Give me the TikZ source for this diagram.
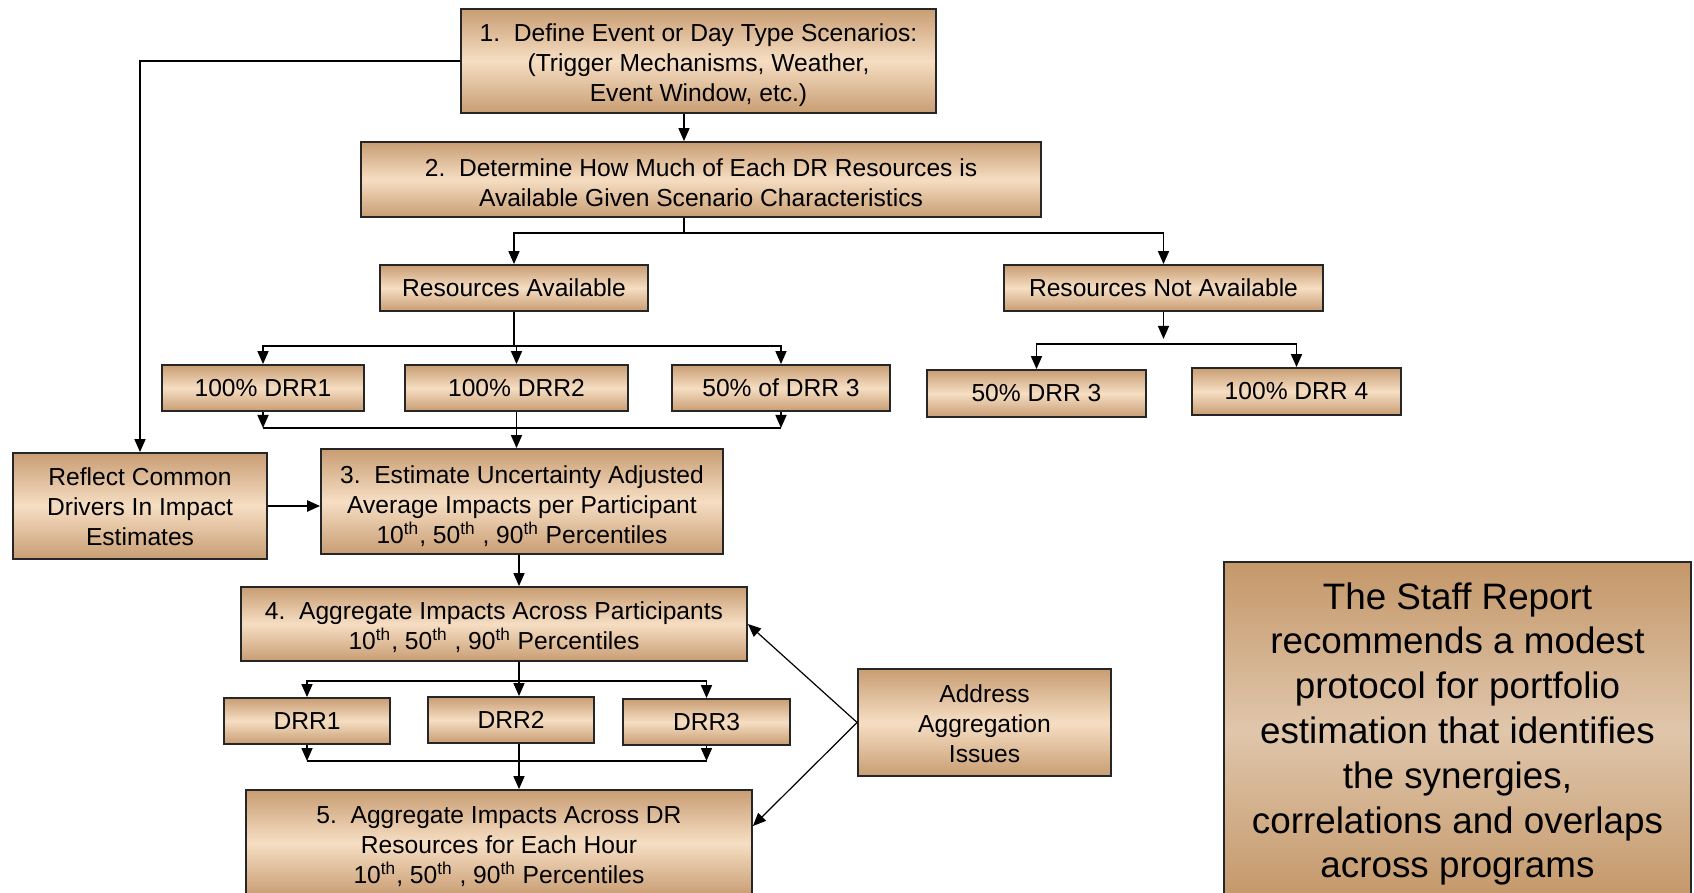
\documentclass[tikz,border=0pt]{standalone}
\usepackage{fontspec}
\setmainfont{Liberation Sans}
\usetikzlibrary{arrows.meta}

\definecolor{tanedge}{RGB}{200,157,115}
\definecolor{tanmid}{RGB}{246,222,195}
\definecolor{noteedge}{RGB}{196,152,106}
\definecolor{notemid}{RGB}{224,198,171}

% strut on the first line, pushes the text block down a little
\newcommand{\liftline}[1][13.4pt]{\rule{0pt}{#1}}

\begin{document}
\begin{tikzpicture}[x=0.5pt, y=-0.5pt,
    stage/.style={draw=black!85, line width=0.9pt, top color=tanedge, bottom color=tanedge,
        middle color=tanmid, align=center, inner sep=0pt, font=\fontsize{12.3pt}{15pt}\selectfont},
    note/.style={draw=black!85, line width=0.9pt, top color=noteedge, bottom color=noteedge,
        middle color=notemid, align=center, inner sep=0pt, font=\fontsize{18.4pt}{22.4pt}\selectfont},
    link/.style={line width=0.8pt},
    flow/.style={line width=0.8pt, -{Triangle[length=6.5pt, width=5.5pt]}},
    fork/.style={line width=0.8pt, {Triangle[length=6.5pt, width=5.5pt]}-{Triangle[length=6.5pt, width=5.5pt]}}]
    \useasboundingbox (0,0) rectangle (1694,893);
    \clip (0,0) rectangle (1694,893);

    % Passi principali
    \node[stage, minimum width=237.5pt, minimum height=52pt] (s1) at (698.5, 61)
        {\liftline 1.\ \ Define Event or Day Type Scenarios:\\(Trigger Mechanisms, Weather,\\Event Window, etc.)};
    \node[stage, minimum width=340pt, minimum height=37.5pt] (s2) at (701, 179.5)
        {\liftline[12pt]2.\ \ Determine How Much of Each DR Resources is\\Available Given Scenario Characteristics};
    \node[stage, minimum width=134pt, minimum height=23pt] (ra) at (514, 288) {Resources Available};
    \node[stage, minimum width=159.5pt, minimum height=23pt] (rna) at (1163.5, 288) {Resources Not Available};

    \node[stage, minimum width=101pt, minimum height=23pt] (a1) at (263, 388) {100\% DRR1};
    \node[stage, minimum width=111.5pt, minimum height=23pt] (a2) at (516.5, 388) {100\% DRR2};
    \node[stage, minimum width=109pt, minimum height=23pt] (a3) at (781, 388) {50\% of DRR 3};
    \node[stage, minimum width=109.5pt, minimum height=23.5pt] (n1) at (1036.5, 393.5) {50\% DRR 3};
    \node[stage, minimum width=104.5pt, minimum height=23.5pt] (n2) at (1296.5, 391.5) {100\% DRR 4};

    \node[stage, minimum width=127pt, minimum height=53pt] (reflect) at (140, 506)
        {\liftline[10pt]Reflect Common\\Drivers In Impact\\Estimates};
    \node[stage, minimum width=201pt, minimum height=52.5pt] (s3) at (522, 501.5)
        {\liftline 3.\ \ Estimate Uncertainty Adjusted\\Average Impacts per Participant\\10\textsuperscript{th}, 50\textsuperscript{th} , 90\textsuperscript{th} Percentiles};
    \node[stage, minimum width=253pt, minimum height=37pt] (s4) at (494, 624)
        {\liftline[12pt]4.\ \ Aggregate Impacts Across Participants\\10\textsuperscript{th}, 50\textsuperscript{th} , 90\textsuperscript{th} Percentiles};

    \node[stage, minimum width=83pt, minimum height=23pt] (d1) at (307, 721) {DRR1};
    \node[stage, minimum width=83pt, minimum height=23pt] (d2) at (511, 720) {DRR2};
    \node[stage, minimum width=83.5pt, minimum height=23pt] (d3) at (706.5, 722) {DRR3};

    \node[stage, minimum width=253pt, minimum height=53pt] (s5) at (499, 843)
        {\liftline[12pt]5.\ \ Aggregate Impacts Across DR\\Resources for Each Hour\\10\textsuperscript{th}, 50\textsuperscript{th} , 90\textsuperscript{th} Percentiles};
    \node[stage, minimum width=126.5pt, minimum height=53.5pt] (address) at (984.5, 722.5)
        {\liftline[10.5pt]Address\\Aggregation\\Issues};

    % Nota a destra
    \node[note, minimum width=233.5pt, minimum height=168pt] (staff) at (1457.5, 730)
        {\liftline[17.4pt]The Staff Report\\recommends a modest\\protocol for portfolio\\estimation that identifies\\the synergies,\\correlations and overlaps\\across programs};

    % Punti di snodo
    \coordinate (spineA) at (684, 0);
    \coordinate (spineB) at (519, 0);
    \coordinate (f1) at (0, 233);
    \coordinate (f2) at (0, 346);
    \coordinate (m2) at (0, 428);
    \coordinate (f4) at (0, 344);
    \coordinate (f5) at (0, 681);
    \coordinate (m5) at (0, 761);

    % Frecce parte alta
    \draw[flow] (s1.south -| spineA) -- (s2.north -| spineA);
    \draw[link] (s2.south -| spineA) -- (spineA |- f1);
    \draw[fork] (ra.north) -- (ra.north |- f1) -- (rna.north |- f1) -- (rna.north);

    \draw[link] (ra.south) -- (ra.south |- f2);
    \draw[fork] (a1.north) -- (a1.north |- f2) -- (a3.north |- f2) -- (a3.north);
    \draw[flow] (a2.north |- f2) -- (a2.north);
    \draw[flow] (a1.south) -- (a1.south |- m2);
    \draw[flow] (a3.south) -- (a3.south |- m2);
    \draw[link] (a1.south |- m2) -- (a3.south |- m2);
    \draw[flow] (a2.south) -- (a2.south |- s3.north);

    \draw[flow] (rna.south) -- ++(0, 27);
    \draw[fork] (n1.north) -- (n1.north |- f4) -- (n2.north |- f4) -- (n2.north);

    % Frecce parte bassa
    \draw[flow] (s1.west) -| (reflect.north);
    \draw[flow, line width=1.2pt] (reflect.east) -- (reflect.east -| s3.west);
    \draw[flow] (s3.south -| spineB) -- (s4.north -| spineB);

    \draw[link] (s4.south -| spineB) -- (spineB |- f5);
    \draw[fork] (d1.north) -- (d1.north |- f5) -- (d3.north |- f5) -- (d3.north);
    \draw[flow] (spineB |- f5) -- (d2.north -| spineB);
    \draw[flow] (d1.south) -- (d1.south |- m5);
    \draw[flow] (d3.south) -- (d3.south |- m5);
    \draw[link] (d1.south |- m5) -- (d3.south |- m5);
    \draw[flow] (d2.south -| spineB) -- (s5.north -| spineB);

    \draw[flow, line width=0.6pt] (address.west) -- (s4.east);
    \draw[flow, line width=0.6pt] (address.west) -- ([yshift=8.5pt]s5.east);

\end{tikzpicture}
\end{document}
